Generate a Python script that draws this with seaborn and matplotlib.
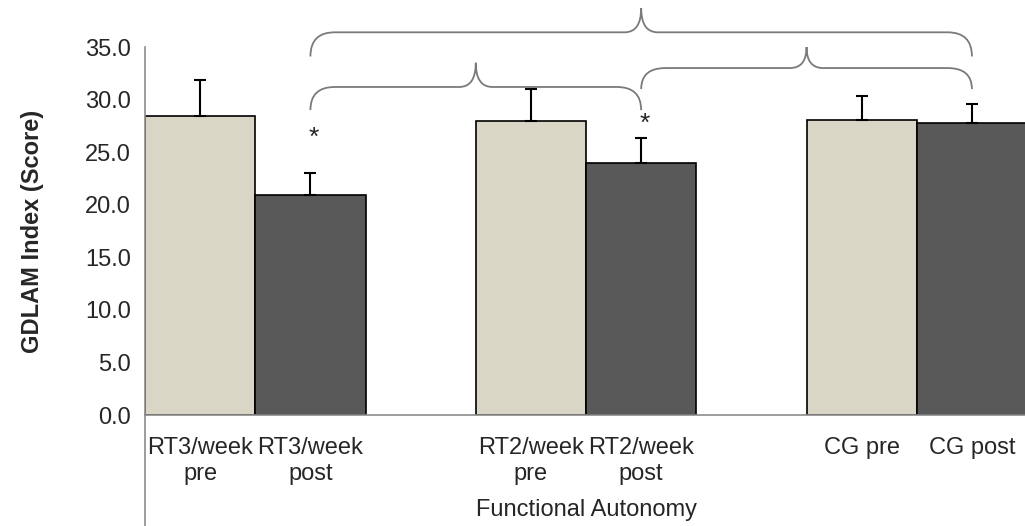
import numpy as np
import pandas as pd
import seaborn as sns
import matplotlib.pyplot as plt
from matplotlib.path import Path
from matplotlib.patches import PathPatch

# bar labels, group phase and values
labels = ["RT3/week\npre", "RT3/week\npost", "RT2/week\npre", "RT2/week\npost", "CG pre", "CG post"]
phase = ["pre", "post", "pre", "post", "pre", "post"]
means = [28.4, 20.9, 28.0, 24.0, 28.1, 27.8]
sds = [3.5, 2.1, 3.0, 2.3, 2.2, 1.8]

# slot order, blanks are the gaps between groups
order = [labels[0], labels[1], " ", labels[2], labels[3], "  ", labels[4], labels[5]]

# significance marks: (bar label, y)
stars = [(labels[1], 26.4), (labels[3], 27.7)]
# braces: (from bar, to bar, end y, flat y, tip y)
braces = [
    (labels[1], labels[3], 29.0, 31.2, 33.5),
    (labels[1], labels[5], 34.1, 36.4, 38.7),
    (labels[3], labels[5], 31.0, 33.0, 35.0),
]

df = pd.DataFrame({"label": labels, "phase": phase, "score": means})

sns.set_style("white")
plt.rcParams["font.family"] = ["Liberation Sans", "DejaVu Sans"]

fig = plt.figure(figsize=(10.25, 5.26), dpi=100)
ax = fig.add_axes([0.1415, 0.211, 0.8605, 0.6996])

sns.barplot(data=df, x="label", y="score", hue="phase", order=order,
            palette={"pre": "#ddd8c3", "post": "#595959"}, width=1.0,
            edgecolor="black", linewidth=1.2, legend=False, ax=ax)

xpos = [order.index(l) for l in labels]
ax.errorbar(xpos, means, yerr=[np.zeros(len(sds)), sds], fmt="none",
            ecolor="black", elinewidth=1.5, capsize=4, capthick=1.5, zorder=3)

for lab, y in stars:
    ax.text(order.index(lab) + 0.03, y, "*", ha="center", va="center", fontsize=19)


def brace(x0, x1, ye, yf, yt, dx=0.22, dt=0.15):
    xm = (x0 + x1) / 2
    verts = [(x0, ye), (x0, yf), (x0 + dx, yf),
             (xm - dt, yf), (xm, yf), (xm, yt),
             (xm, yf), (xm + dt, yf),
             (x1 - dx, yf), (x1, yf), (x1, ye)]
    codes = [Path.MOVETO, Path.CURVE3, Path.CURVE3,
             Path.LINETO, Path.CURVE3, Path.CURVE3,
             Path.CURVE3, Path.CURVE3,
             Path.LINETO, Path.CURVE3, Path.CURVE3]
    return Path(verts, codes)


for a, b, ye, yf, yt in braces:
    p = brace(order.index(a), order.index(b), ye, yf, yt)
    ax.add_patch(PathPatch(p, facecolor="none", edgecolor="#7a7a7a", lw=1.3, clip_on=False))

ax.set_ylim(0, 35)
ax.set_xlim(-0.5, 7.5)
ax.set_yticks(np.arange(0, 35.1, 5))
ax.set_yticklabels([f"{v:.1f}" for v in np.arange(0, 35.1, 5)])
ax.tick_params(axis="y", length=6, color="#8c8c8c", labelsize=17, pad=4)
ax.tick_params(axis="x", length=0, labelsize=17, pad=16)

for s in ["top", "right"]:
    ax.spines[s].set_visible(False)
for s in ["left", "bottom"]:
    ax.spines[s].set_color("#8c8c8c")
    ax.spines[s].set_linewidth(1.2)
ax.plot([-0.5, -0.5], [0, -11], color="#8c8c8c", lw=1.2, clip_on=False)

ax.set_ylabel("GDLAM Index (Score)", fontsize=17, fontweight="bold", labelpad=30)
ax.set_xlabel("Functional Autonomy", fontsize=17, labelpad=10)

fig.savefig("out.png", dpi=100)
